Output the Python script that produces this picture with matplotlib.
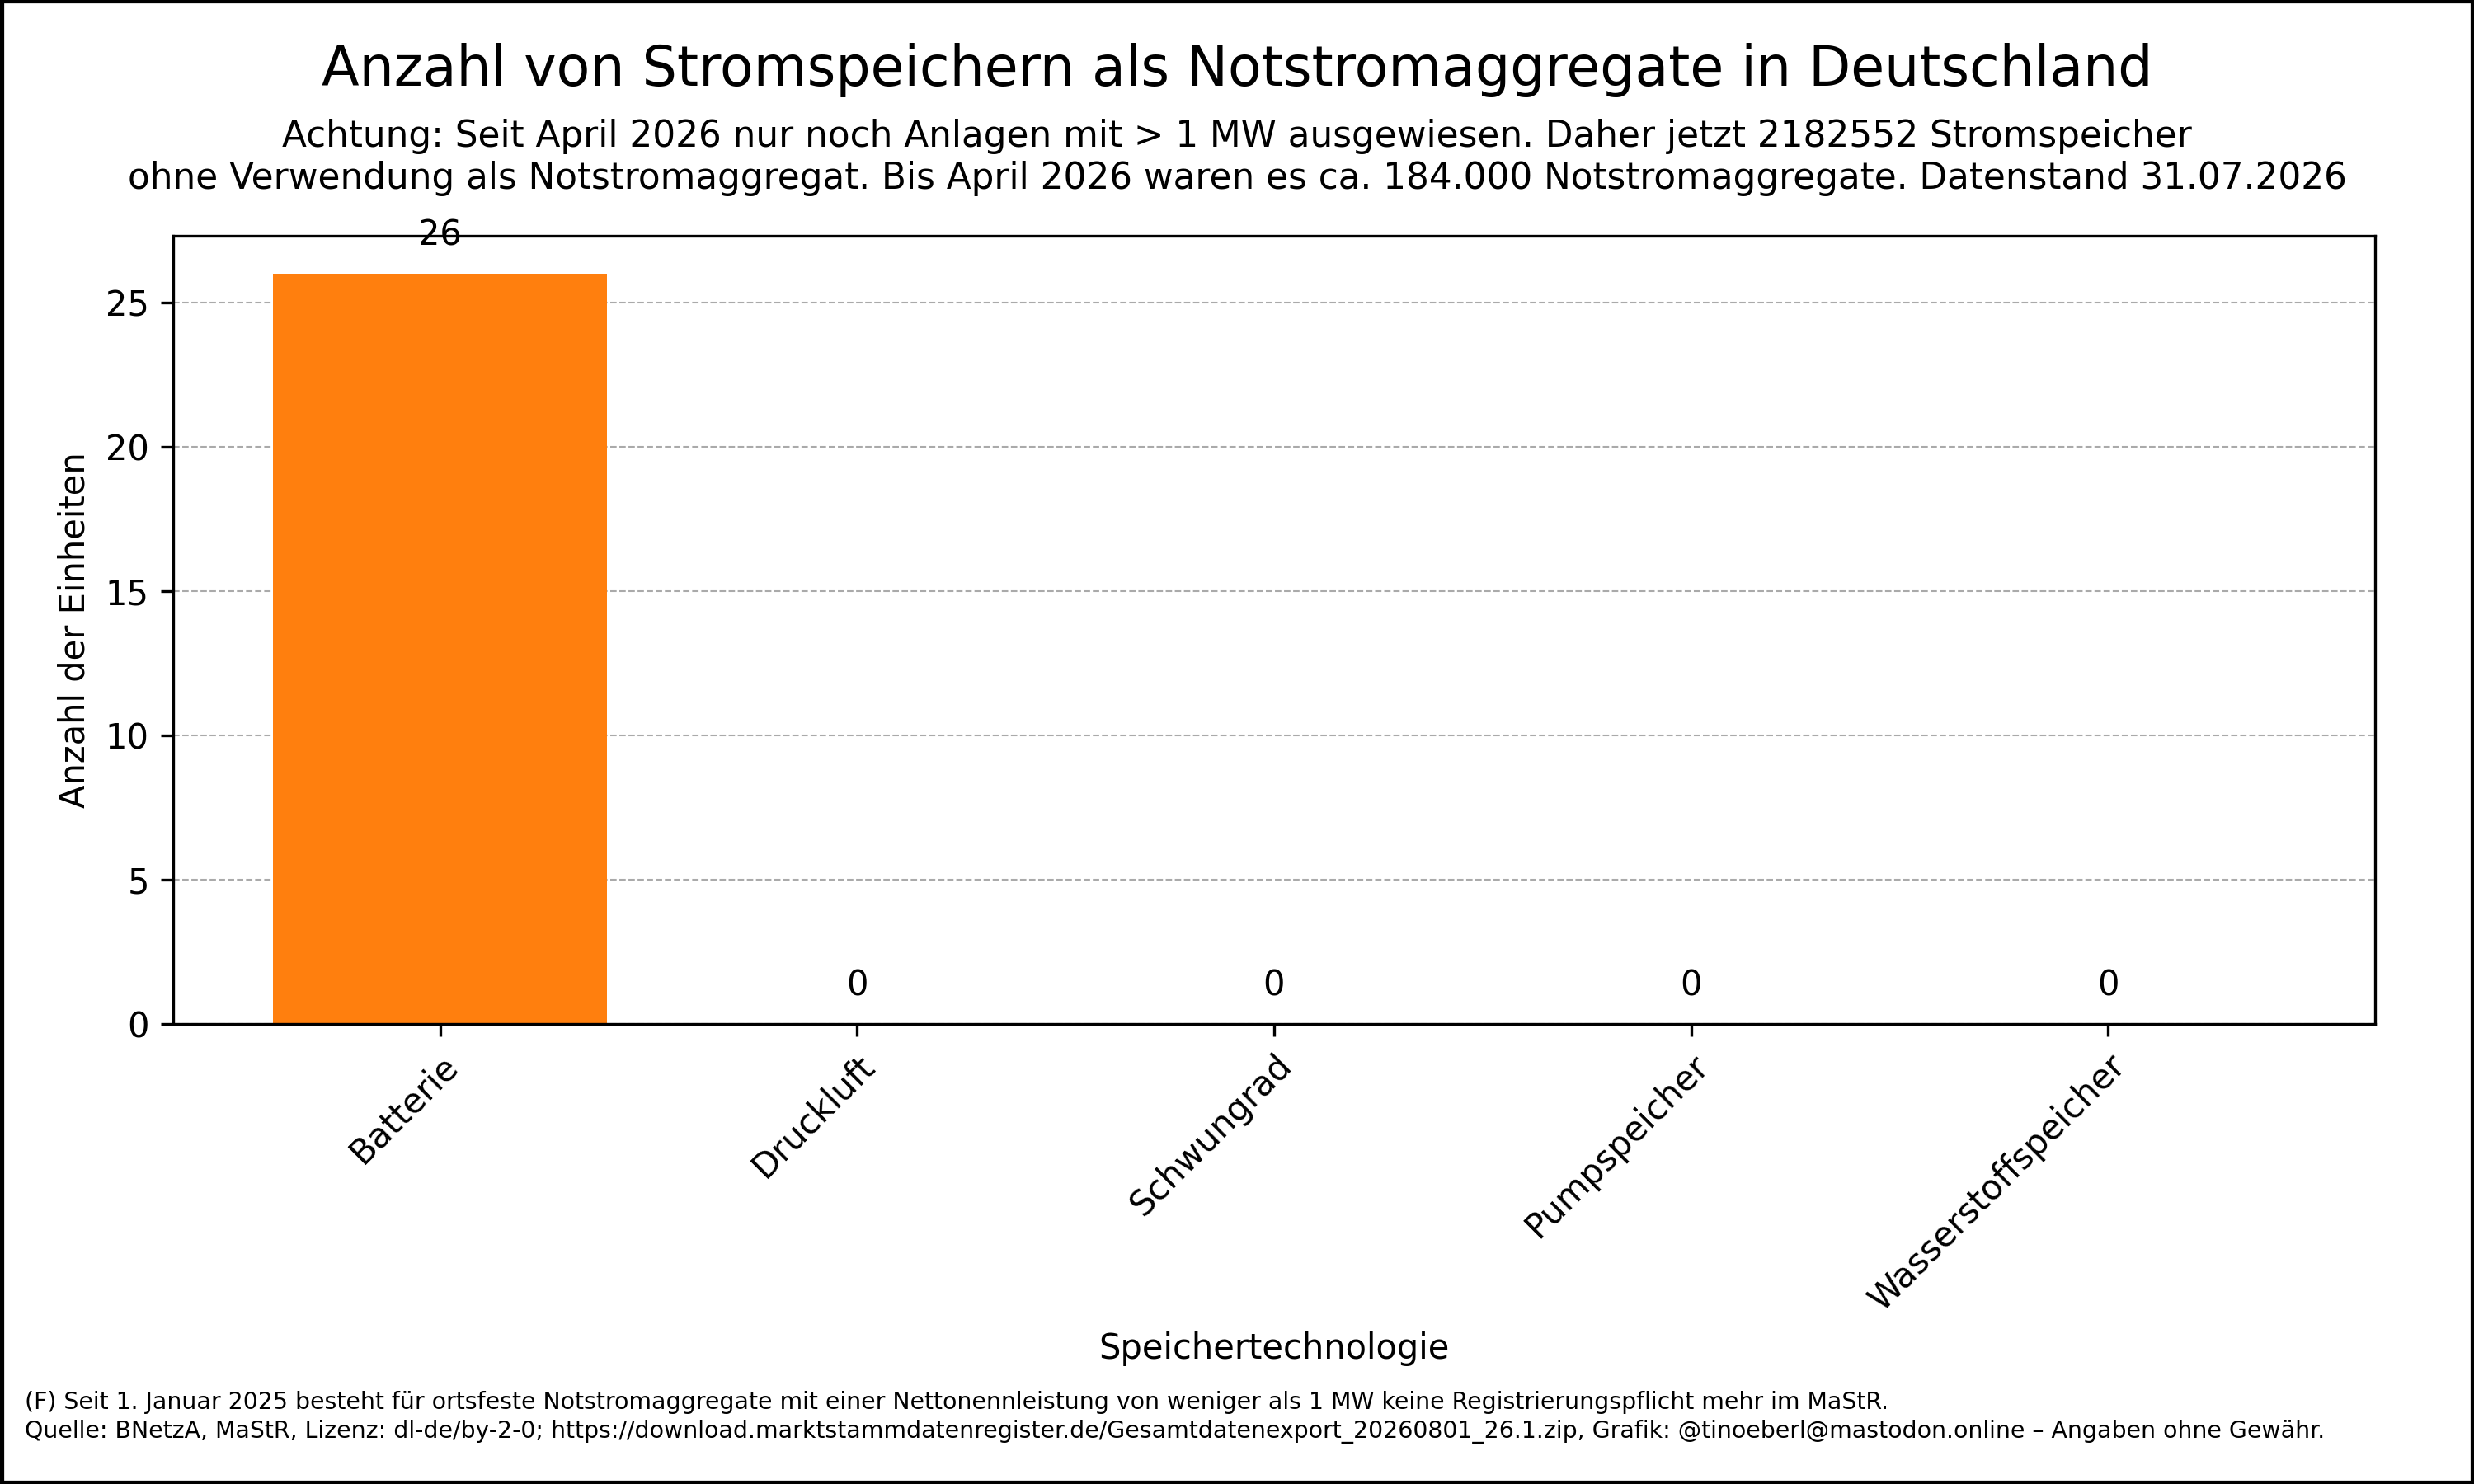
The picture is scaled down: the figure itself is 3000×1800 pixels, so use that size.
import matplotlib
matplotlib.use("Agg")
import matplotlib.pyplot as plt
from matplotlib.patches import Rectangle

categories = ["Batterie", "Druckluft", "Schwungrad", "Pumpspeicher", "Wasserstoffspeicher"]
values = [26, 0, 0, 0, 0]

fig = plt.figure(figsize=(10, 6), dpi=300)
ax = fig.add_axes([0.070, 0.310, 0.890, 0.531])
bars = ax.bar(categories, values, color="#ff7f0e", width=0.8)
for b, v in zip(bars, values):
    ax.annotate(str(v), (b.get_x() + b.get_width() / 2, v), xytext=(0, 6),
                textcoords="offset points", ha="center", va="bottom", fontsize=10)
ax.yaxis.grid(True, linestyle="--", linewidth=0.5, color="#aaaaaa")
ax.set_axisbelow(True)
ax.set_ylabel("Anzahl der Einheiten", fontsize=10)
ax.set_xlabel("Speichertechnologie", fontsize=10)
plt.setp(ax.get_xticklabels(), rotation=45, ha="right", rotation_mode="anchor")

fig.text(0.5, 0.953, "Anzahl von Stromspeichern als Notstromaggregate in Deutschland",
         ha="center", va="center", fontsize=16)
fig.text(0.5, 0.894, "Achtung: Seit April 2026 nur noch Anlagen mit > 1 MW ausgewiesen. Daher jetzt 2182552 Stromspeicher\n"
         "ohne Verwendung als Notstromaggregat. Bis April 2026 waren es ca. 184.000 Notstromaggregate. Datenstand 31.07.2026",
         ha="center", va="center", fontsize=10.5, linespacing=1.25)
fig.text(0.010, 0.045, "(F) Seit 1. Januar 2025 besteht für ortsfeste Notstromaggregate mit einer Nettonennleistung von weniger als 1 MW keine Registrierungspflicht mehr im MaStR.\n"
         "Quelle: BNetzA, MaStR, Lizenz: dl-de/by-2-0; https://download.marktstammdatenregister.de/Gesamtdatenexport_20260801_26.1.zip, Grafik: @tinoeberl@mastodon.online – Angaben ohne Gewähr.",
         ha="left", va="center", fontsize=6.8, linespacing=1.3)
fig.patches.append(Rectangle((0.0005, 0.0008), 0.999, 0.9985, transform=fig.transFigure,
                             fill=False, edgecolor="black", linewidth=1.5))
fig.savefig("out.png", dpi=300)
